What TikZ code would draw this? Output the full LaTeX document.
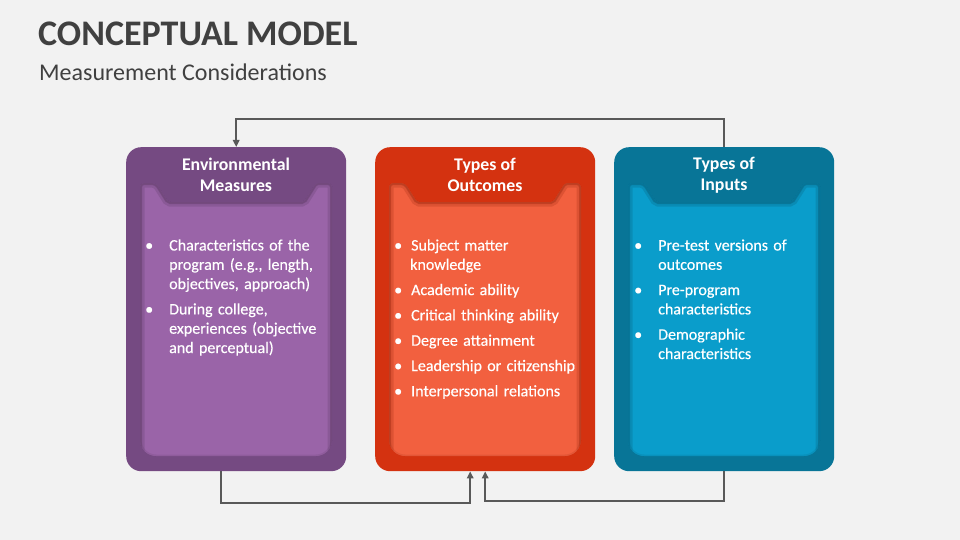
\documentclass[tikz,border=0pt]{standalone}
\usepackage{fontspec}
\setmainfont{Carlito}
\newfontfamily\bodyfont[FakeBold=0.4]{Carlito}
\usetikzlibrary{arrows.meta}
\definecolor{bg}{HTML}{F2F2F2}
\definecolor{titlegray}{HTML}{404040}
\definecolor{conngray}{HTML}{595959}
\definecolor{pdark}{HTML}{754A82}
\definecolor{plight}{HTML}{9A64A8}
\definecolor{odark}{HTML}{D43210}
\definecolor{olight}{HTML}{F2603F}
\definecolor{bdark}{HTML}{087597}
\definecolor{blight}{HTML}{0A9DCB}
\newenvironment{blist}[2]{\begin{list}{\textbullet}{\setlength\leftmargin{#1}\setlength\labelsep{#2}\setlength\labelwidth{\dimexpr#1-#2\relax}\setlength\itemsep{6pt}\setlength\topsep{0pt}\setlength\parsep{0pt}\setlength\partopsep{0pt}}}{\end{list}}
\newcommand\panelpath{(14,300) [rounded corners=4pt] -- (14,183) -- (30,183) [rounded corners=2pt] -- (42,202) -- (178,202) -- (190,183) [rounded corners=4pt] -- (206,183) -- (206,300) [rounded corners=16pt] -- (206,456) -- (14,456) -- cycle}
\newcommand\panelshade{(14,480) [rounded corners=4pt] -- (14,183) -- (30,183) [rounded corners=2pt] -- (42,202) -- (178,202) -- (190,183) [rounded corners=4pt] -- (206,183) -- (206,480)}
\newcommand\cardpanel[3]{%
  \begin{scope}[shift={(#1,0)}]
    \fill[#2] \panelpath;
    \begin{scope}
      \clip \panelpath;
      \draw[#3, line width=9pt, opacity=0.22] \panelshade;
      \draw[#3, line width=4pt, opacity=0.3] \panelshade;
      \draw[#3, line width=3pt, opacity=0.15] \panelpath;
    \end{scope}
  \end{scope}}
\begin{document}
\begin{tikzpicture}[x=1pt,y=-1pt,
  card/.style={draw=none, rounded corners=15pt, minimum width=220pt, minimum height=324pt, anchor=north west, inner sep=0pt},
  hdr/.style={text=white, align=center, font=\bfseries\fontsize{17.8}{21}\selectfont, inner sep=0pt},
  body/.style={text=white, align=left, text width=200pt, anchor=north west, inner sep=0pt, font=\bodyfont\fontsize{16}{19.3}\selectfont},
  conn/.style={draw=conngray, line width=2pt, -{Triangle[length=7pt,width=6.5pt]}}]
\fill[bg] (0,0) rectangle (960,540);
\useasboundingbox (0,0) rectangle (960,540);

\node[anchor=base west, text=titlegray, inner sep=0pt, font=\bfseries\fontsize{36}{40}\selectfont] (title) at (38,46) {CONCEPTUAL MODEL};
\node[anchor=base west, text=titlegray, inner sep=0pt, font=\fontsize{24}{28}\selectfont] (subtitle) at (39,81) {Measurement Considerations};

\node[card, fill=pdark] (c1) at (126,147) {};
\node[card, fill=odark] (c2) at (375,147) {};
\node[card, fill=bdark] (c3) at (614,147) {};

\cardpanel{126}{plight}{pdark!70!black}
\cardpanel{375}{olight}{odark!70!black}
\cardpanel{614}{blight}{bdark!70!black}

\node[hdr] (h1) at (236,175) {Environmental\\Measures};
\node[hdr] (h2) at (485,175) {Types of\\Outcomes};
\node[hdr] (h3) at (724,175) {Types of\\Inputs};

\node[body] (b1) at (145,231) {\begin{blist}{24pt}{16pt}
\item Characteristics of the\\program (e.g., length,\\objectives, approach)
\item During college,\\experiences (objective\\and perceptual)
\end{blist}};
\node[body] (b2) at (394,231) {\begin{blist}{16pt}{9pt}
\item Subject matter\\knowledge
\item Academic ability
\item Critical thinking ability
\item Degree attainment
\item Leadership or citizenship
\item Interpersonal relations
\end{blist}};
\node[body] (b3) at (634,231) {\begin{blist}{24pt}{16pt}
\item Pre-test versions of\\outcomes
\item Pre-program\\characteristics
\item Demographic\\characteristics
\end{blist}};

\draw[conn] (c3.north) -- ++(0,-28) -| (c1.north);
\draw[conn] ([xshift=-15pt]c1.south) -- ++(0,32) -| ([xshift=-15pt]c2.south);
\draw[conn] (c3.south) -- ++(0,30) -| (c2.south);
\end{tikzpicture}
\end{document}
